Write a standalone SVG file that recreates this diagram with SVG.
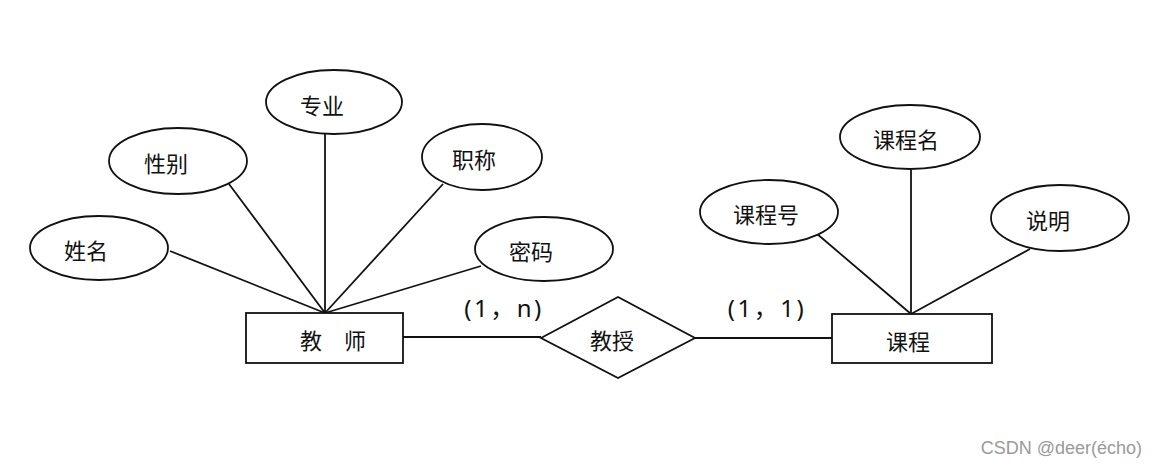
<svg xmlns="http://www.w3.org/2000/svg" width="1156" height="466" viewBox="0 0 1156 466">
<style>
.shape{fill:#fff;stroke:#111;stroke-width:1.8}
.conn line{stroke:#111;stroke-width:1.8}
.t{font-family:"Noto Sans CJK SC","Noto Sans",sans-serif;font-size:22px;fill:#111;text-anchor:middle;dominant-baseline:central}
.card{font-family:"Noto Sans","Noto Sans CJK SC",sans-serif;font-size:24px;letter-spacing:2.5px;fill:#111;text-anchor:middle}
.wm{font-family:"Liberation Sans",Arial,sans-serif;font-size:18px;fill:#9a9a9a;text-anchor:end}
</style>
<rect width="1156" height="466" fill="#fff"/>
<g id="connectors" class="conn">
<line x1="325" y1="134" x2="325" y2="313"/>
<line x1="229" y1="184" x2="325" y2="313"/>
<line x1="443" y1="184" x2="325" y2="313"/>
<line x1="170" y1="251" x2="325" y2="313"/>
<line x1="481" y1="266" x2="325" y2="313"/>
<line x1="403" y1="337" x2="541" y2="337"/>
<line x1="695" y1="338" x2="832" y2="338"/>
<line x1="911" y1="168" x2="911" y2="314"/>
<line x1="816" y1="233" x2="911" y2="314"/>
<line x1="1030" y1="249" x2="911" y2="314"/>
</g>
<g id="attr-zhuanye"><ellipse class="shape" cx="334" cy="102" rx="68" ry="32"/><text class="t" x="322" y="104">专业</text></g>
<g id="attr-xingbie"><ellipse class="shape" cx="178" cy="161" rx="69" ry="33"/><text class="t" x="166" y="162">性别</text></g>
<g id="attr-zhicheng"><ellipse class="shape" cx="482" cy="157" rx="60" ry="33"/><text class="t" x="474" y="158">职称</text></g>
<g id="attr-xingming"><ellipse class="shape" cx="99" cy="248" rx="69" ry="32"/><text class="t" x="86" y="249">姓名</text></g>
<g id="attr-mima"><ellipse class="shape" cx="544" cy="249" rx="69" ry="32"/><text class="t" x="531" y="250">密码</text></g>
<g id="entity-teacher"><rect class="shape" x="246" y="313" width="157" height="50"/><text class="t" y="339"><tspan x="311">教</tspan><tspan x="355">师</tspan></text></g>
<g id="rel-teach"><polygon class="shape" points="541,338 618,297 695,338 618,378"/><text class="t" x="612" y="339">教授</text></g>
<g id="entity-course"><rect class="shape" x="832" y="314" width="160" height="49"/><text class="t" x="908" y="340">课程</text></g>
<g id="attr-kechengming"><ellipse class="shape" cx="910" cy="137" rx="70" ry="32"/><text class="t" x="906" y="138">课程名</text></g>
<g id="attr-kechenghao"><ellipse class="shape" cx="769" cy="212" rx="69" ry="32"/><text class="t" x="766" y="213">课程号</text></g>
<g id="attr-shuoming"><ellipse class="shape" cx="1060" cy="218" rx="69" ry="33"/><text class="t" x="1048" y="219">说明</text></g>
<g id="cardinalities">
<text class="card" x="504" y="317">(1，n)</text>
<text class="card" x="767" y="317">(1，1)</text>
</g>
<text class="wm" x="1142" y="454">CSDN @deer(écho)</text>
</svg>
